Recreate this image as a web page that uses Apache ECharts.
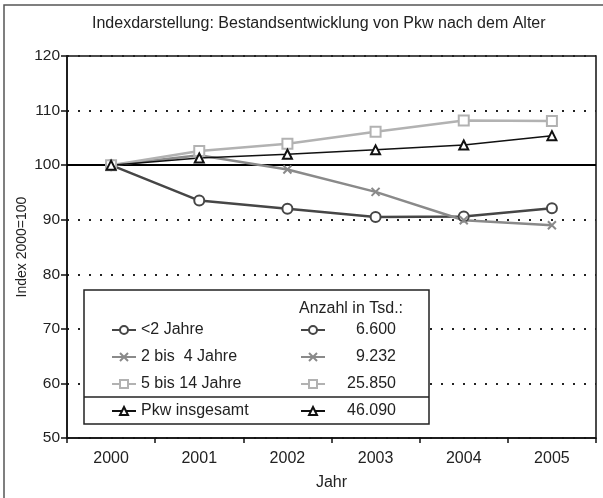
<!DOCTYPE html>
<html>
<head>
<meta charset="utf-8">
<script src="https://cdn.jsdelivr.net/npm/echarts@6/dist/echarts.min.js"></script>
<style>
  html, body { margin: 0; padding: 0; background: #fff; }
  #chart { width: 603px; height: 498px; }
</style>
</head>
<body>
<div id="chart"></div>
<script>
// Years on the category axis
const years = ['2000', '2001', '2002', '2003', '2004', '2005'];

// Index values (2000 = 100) per age group
const under2 = [100, 93.5, 92.0, 90.5, 90.6, 92.1];
const from2to4 = [100, 101.8, 99.2, 95.1, 89.9, 89.0];
const from5to14 = [100, 102.6, 103.9, 106.1, 108.2, 108.1];
const total = [100, 101.3, 102.0, 102.8, 103.7, 105.4];

// Series names and stock counts (thousands) shown in the key
const seriesNames = ['<2 Jahre', '2 bis  4 Jahre', '5 bis 14 Jahre', 'Pkw insgesamt'];
const stockCounts = ['6.600', '9.232', '25.850', '46.090'];

// Y axis ticks
const yMin = 50, yMax = 120, yStep = 10;

const FONT = 'Liberation Sans, Arial, sans-serif';
const countByName = {};
seriesNames.forEach((n, i) => { countByName[n] = stockCounts[i]; });

const crossPath = 'path://M0,0L10,10M10,0L0,10';

function lineSeries(name, data, color, width, symbol, size) {
  return {
    name: name,
    type: 'line',
    data: data,
    symbol: symbol,
    symbolSize: size,
    showAllSymbol: true,
    lineStyle: { color: color, width: width },
    itemStyle: { color: '#fff', borderColor: color, borderWidth: 2 },
    emphasis: { disabled: true },
    silent: true,
    z: 5
  };
}

const chart = echarts.init(document.getElementById('chart'), null, { renderer: 'canvas' });

const series = [
  lineSeries(seriesNames[0], under2, '#464646', 2.5, 'circle', 10),
  lineSeries(seriesNames[1], from2to4, '#8a8a8a', 2.5, crossPath, 8),
  lineSeries(seriesNames[2], from5to14, '#b2b2b2', 2.5, 'rect', 10),
  lineSeries(seriesNames[3], total, '#111111', 1.5, 'triangle', 9)
];
// solid reference line at index 100
series[0].markLine = {
  silent: true,
  symbol: 'none',
  label: { show: false },
  lineStyle: { color: '#000', width: 2, type: 'solid' },
  data: [{ yAxis: 100 }],
  z: 3
};

const keyLegend = {
  data: seriesNames,
  orient: 'vertical',
  top: 322,
  padding: 0,
  itemWidth: 24,
  itemHeight: 10,
  itemGap: 11,
  selectedMode: false,
  z: 10
};

chart.setOption({
  animation: false,
  backgroundColor: '#fff',
  textStyle: { fontFamily: FONT, color: '#222' },
  title: {
    text: 'Indexdarstellung: Bestandsentwicklung von Pkw nach dem Alter',
    left: 92,
    top: 16,
    padding: 0,
    textStyle: { fontFamily: FONT, fontSize: 16, fontWeight: 'normal', color: '#222' }
  },
  grid: {
    left: 67, top: 56, right: 7, bottom: 60,
    show: true,
    borderColor: '#111',
    borderWidth: 1.5,
    containLabel: false
  },
  xAxis: {
    type: 'category',
    data: years,
    boundaryGap: true,
    name: 'Jahr',
    nameLocation: 'middle',
    nameGap: 37,
    nameTextStyle: { fontFamily: FONT, fontSize: 16, color: '#222' },
    axisLine: { lineStyle: { color: '#111', width: 1.5 } },
    axisTick: { show: true, length: 5, alignWithLabel: false, lineStyle: { color: '#111', width: 1.5 } },
    axisLabel: { fontFamily: FONT, fontSize: 16, color: '#222', margin: 13 },
    splitLine: { show: false }
  },
  yAxis: {
    type: 'value',
    min: yMin,
    max: yMax,
    interval: yStep,
    name: 'Index 2000=100',
    nameLocation: 'middle',
    nameRotate: 90,
    nameGap: 38,
    nameMoveOverlap: false,
    nameTextStyle: { fontFamily: FONT, fontSize: 14, color: '#222' },
    axisLine: { show: true, lineStyle: { color: '#111', width: 1.5 } },
    axisTick: { show: true, length: 6, lineStyle: { color: '#111', width: 1.5 } },
    axisLabel: { fontFamily: FONT, fontSize: 15.5, color: '#222', margin: 7 },
    splitLine: { show: true, lineStyle: { color: '#222', width: 2, type: [2, 9] } }
  },
  legend: [
    Object.assign({}, keyLegend, {
      left: 111,
      textStyle: { fontFamily: FONT, fontSize: 16, color: '#222' }
    }),
    Object.assign({}, keyLegend, {
      left: 300,
      formatter: function (name) { return '{n|' + countByName[name] + '}'; },
      textStyle: {
        fontFamily: FONT, fontSize: 16, color: '#222',
        rich: { n: { width: 66, align: 'right', fontFamily: FONT, fontSize: 16, color: '#222' } }
      }
    })
  ],
  graphic: [
    // outer frame
    {
      type: 'rect', silent: true, z: 0,
      shape: { x: 4, y: 5, width: 700, height: 600 },
      style: { fill: 'none', stroke: '#555', lineWidth: 1.5 }
    },
    // key box with divider
    {
      type: 'rect', silent: true, z: 8,
      shape: { x: 84, y: 290, width: 345, height: 134 },
      style: { fill: '#fff', stroke: '#222', lineWidth: 1.5 }
    },
    {
      type: 'line', silent: true, z: 9,
      shape: { x1: 84, y1: 397, x2: 429, y2: 397 },
      style: { stroke: '#222', lineWidth: 1.5 }
    },
    {
      type: 'text', silent: true, z: 9,
      x: 299, y: 309,
      style: {
        text: 'Anzahl in Tsd.:',
        font: '16px ' + FONT,
        fill: '#222',
        textAlign: 'left',
        textVerticalAlign: 'middle'
      }
    }
  ],
  series: series
});
</script>
</body>
</html>
